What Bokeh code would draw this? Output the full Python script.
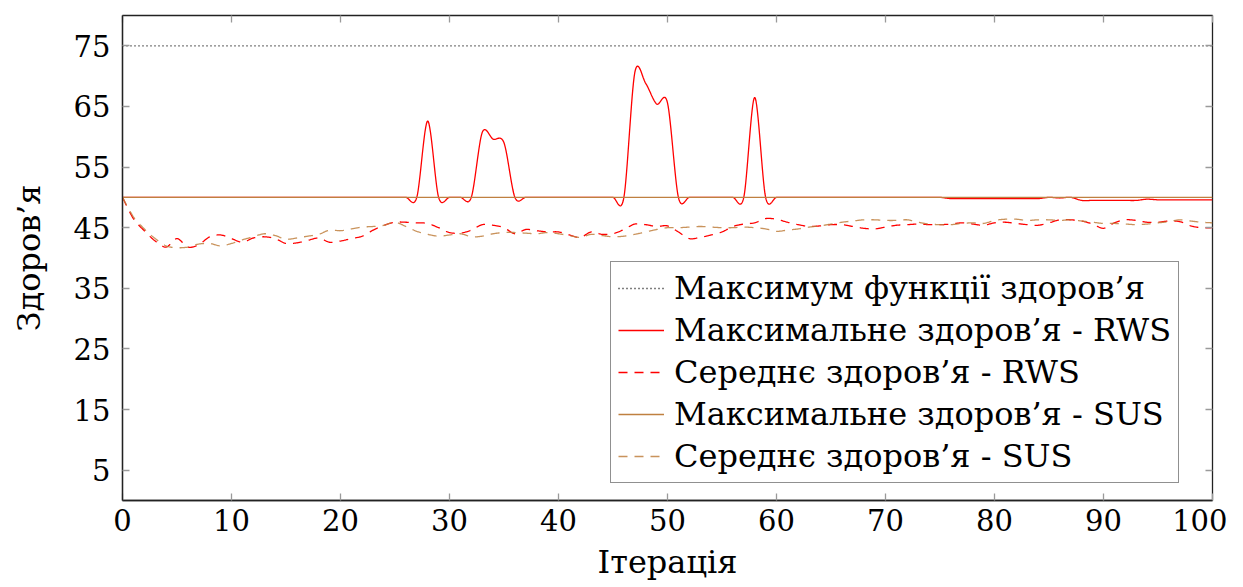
import numpy as np
from bokeh.plotting import figure
from bokeh.models import Range1d, LinearAxis, Legend, LegendItem, FixedTicker
from bokeh.embed import file_html
from bokeh.resources import INLINE

iterations = list(range(0, 101))
fitness_max_value = 75

max_rws = [50.0] * 101
for i, v in {28: 62.6, 33: 60.7, 34: 59.6, 35: 59.0,
             47: 70.6, 48: 68.8, 49: 65.4, 50: 65.6, 58: 66.5}.items():
    max_rws[i] = v
for i in range(76, 85):
    max_rws[i] = 49.8
max_rws[86] = 49.9
for i in range(88, 94):
    max_rws[i] = 49.5
max_rws[94] = 49.7
for i in range(95, 101):
    max_rws[i] = 49.6

mean_rws = [50.0, 46.5, 44.5, 42.8, 41.8, 43.2, 41.8, 42.2, 43.5, 43.8,
            43.2, 42.6, 43.3, 43.5, 43.2, 42.4, 42.5, 42.9, 43.3, 42.6,
            42.8, 43.2, 43.6, 44.6, 45.4, 45.9, 45.9, 45.8, 45.7, 45.0,
            44.2, 44.1, 44.6, 45.5, 45.4, 45.0, 44.0, 44.7, 44.5, 44.3,
            44.3, 43.8, 43.4, 44.3, 43.9, 44.0, 44.7, 45.6, 45.5, 45.2,
            45.3, 44.3, 43.2, 43.4, 43.8, 44.3, 45.2, 45.6, 45.8, 46.5,
            46.4, 45.9, 45.5, 45.2, 45.3, 45.5, 45.5, 45.2, 44.9, 44.8,
            45.1, 45.4, 45.5, 45.6, 45.5, 45.5, 45.6, 45.8, 45.6, 45.4,
            45.8, 45.9, 45.7, 45.5, 45.4, 45.8, 46.3, 46.3, 46.1, 45.6,
            44.9, 45.8, 46.3, 46.2, 45.9, 45.9, 46.1, 46.0, 45.3, 45.0,
            45.0]

max_sus = [50.0] * 101

mean_sus = [50.0, 46.8, 44.8, 43.2, 42.0, 41.7, 41.8, 42.3, 42.4, 42.0,
            42.4, 43.0, 43.5, 44.0, 43.7, 43.1, 43.3, 43.6, 43.9, 44.6,
            44.5, 44.8, 45.1, 45.2, 45.4, 45.9, 45.2, 44.4, 43.9, 43.6,
            43.8, 44.0, 43.5, 43.6, 44.0, 44.2, 44.2, 44.1, 44.0, 44.2,
            44.0, 43.7, 43.4, 43.9, 43.7, 43.5, 43.6, 43.9, 44.3, 44.7,
            45.0, 45.0, 45.1, 45.2, 45.1, 45.0, 45.0, 45.1, 45.0, 44.8,
            44.4, 44.6, 44.8, 45.1, 45.3, 45.6, 45.9, 46.1, 46.3, 46.3,
            46.2, 46.2, 46.3, 45.9, 45.6, 45.5, 45.5, 45.7, 45.8, 45.7,
            46.2, 46.4, 46.4, 46.2, 46.3, 46.3, 46.2, 46.3, 46.1, 45.9,
            45.7, 45.7, 45.6, 45.5, 45.6, 45.8, 46.0, 46.3, 46.1, 45.9,
            45.8]

labels = ["Максимум функції здоров’я",
          "Максимальне здоров’я - RWS",
          "Середнє здоров’я - RWS",
          "Максимальне здоров’я - SUS",
          "Середнє здоров’я - SUS"]

x_ticks = list(range(0, 101, 10))
y_ticks = list(range(5, 80, 10))


def smooth(x, y, n=16, k=0.153):
    """Smooth cubic rendering of a polyline, like pgfplots 'smooth'."""
    x = np.asarray(x, float)
    y = np.asarray(y, float)
    m = len(x)
    xs, ys = [], []
    t = np.linspace(0, 1, n, endpoint=False)
    for i in range(m - 1):
        ip, inx = max(i - 1, 0), min(i + 2, m - 1)
        p0 = np.array([x[i], y[i]])
        p3 = np.array([x[i + 1], y[i + 1]])
        c1 = p0 + k * (p3 - np.array([x[ip], y[ip]]))
        c2 = p3 - k * (np.array([x[inx], y[inx]]) - p0)
        b = ((1 - t) ** 3)[:, None] * p0 + (3 * (1 - t) ** 2 * t)[:, None] * c1 \
            + (3 * (1 - t) * t ** 2)[:, None] * c2 + (t ** 3)[:, None] * p3
        xs.extend(b[:, 0])
        ys.extend(b[:, 1])
    xs.append(x[-1])
    ys.append(y[-1])
    return xs, ys


FONT = "'DejaVu Serif', serif"
TICK_FS = "29px"
FS = "32px"
RED = "#ff0000"
BROWN = "#bf8040"

p = figure(width=1227, height=583, output_backend="svg", toolbar_location=None,
           x_range=Range1d(0, 100), y_range=Range1d(0, 80),
           min_border_left=122, min_border_right=15, min_border_top=15,
           min_border_bottom=83)
p.background_fill_color = "white"
p.border_fill_color = "white"
p.outline_line_color = "#222222"
p.outline_line_width = 1.3
p.grid.visible = False

for ax in (p.xaxis[0], p.yaxis[0]):
    ax.axis_line_color = "#222222"
    ax.axis_line_width = 1.3
    ax.major_tick_in = 7
    ax.major_tick_out = 0
    ax.minor_tick_line_color = None
    ax.major_tick_line_color = "#9a9a9a"
    ax.major_tick_line_width = 1.3
    ax.major_label_text_font = FONT
    ax.major_label_text_font_size = TICK_FS
    ax.major_label_text_color = "black"
    ax.axis_label_text_font = FONT
    ax.axis_label_text_font_size = FS
    ax.axis_label_text_font_style = "normal"
    ax.axis_label_text_color = "black"

p.xaxis[0].ticker = FixedTicker(ticks=x_ticks)
p.yaxis[0].ticker = FixedTicker(ticks=y_ticks)
p.xaxis[0].axis_label = "Ітерація"
p.yaxis[0].axis_label = "Здоров’я"
p.xaxis[0].major_label_standoff = 8
p.xaxis[0].axis_label_standoff = 9
p.yaxis[0].major_label_standoff = 12
p.yaxis[0].axis_label_standoff = 23

for loc, ticks in (("above", x_ticks), ("right", y_ticks)):
    ax = LinearAxis(ticker=FixedTicker(ticks=ticks), major_label_text_font_size="1px",
                    major_label_text_color=None,
                    major_tick_in=7, major_tick_out=0, minor_tick_line_color=None,
                    major_tick_line_color="#9a9a9a", major_tick_line_width=1.3,
                    axis_line_color=None, major_label_standoff=0)
    p.add_layout(ax, loc)

r0 = p.line([iterations[0], iterations[-1]], [fitness_max_value, fitness_max_value],
            line_color="black", line_width=1.3, line_dash="1 3")
xs, ys = smooth(iterations, max_rws)
r1 = p.line(xs, ys, line_color=RED, line_width=1.3)
xs, ys = smooth(iterations, mean_rws)
r2 = p.line(xs, ys, line_color=RED, line_width=1.3, line_dash="9 7")
xs, ys = smooth(iterations, max_sus)
r3 = p.line(xs, ys, line_color=BROWN, line_width=1.3)
xs, ys = smooth(iterations, mean_sus)
r4 = p.line(xs, ys, line_color=BROWN, line_width=1.3, line_dash="9 7", line_alpha=0.85)

legend = Legend(items=[LegendItem(label=l, renderers=[r]) for l, r in
                       zip(labels, [r0, r1, r2, r3, r4])],
                location=(488, 17))
legend.label_text_font = FONT
legend.label_text_font_size = FS
legend.label_text_color = "black"
legend.glyph_width = 46
legend.glyph_height = 30
legend.label_height = 30
legend.label_standoff = 10
legend.spacing = 4
legend.padding = 7
legend.margin = 0
legend.border_line_color = "#222222"
legend.border_line_width = 1.3
legend.background_fill_alpha = 1.0
p.add_layout(legend, "center")

open("out.html", "w").write(file_html(p, INLINE))
